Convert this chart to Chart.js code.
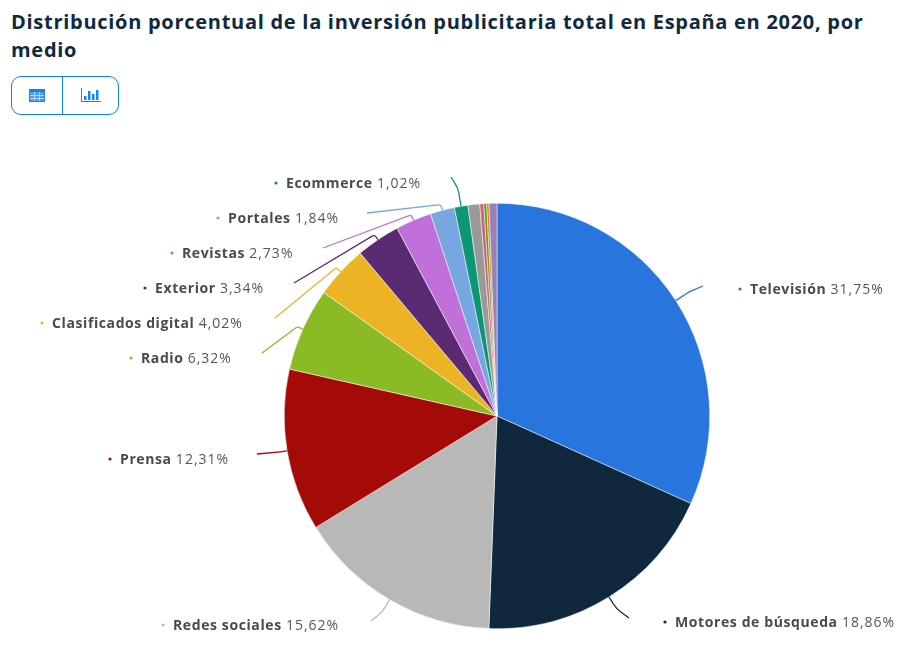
<!DOCTYPE html>
<html>
<head>
<meta charset="utf-8">
<title>Inversión publicitaria</title>
<script src="https://cdn.jsdelivr.net/npm/chart.js@4"></script>
<style>
  html, body { margin: 0; padding: 0; background: #fff; overflow: hidden; }
  body { width: 919px; height: 648px; position: relative; font-family: "Open Sans", sans-serif; }
  h1 { position: absolute; left: 11px; top: 8px; width: 880px; margin: 0; font-size: 20px; line-height: 28px; font-weight: 700; color: #0f2a40; letter-spacing: 0.72px; }
  .btns { position: absolute; left: 11px; top: 76px; width: 106px; height: 37px; border: 1px solid #0b84e8; border-radius: 10px; }
  .btns i { position: absolute; left: 50px; top: 0; width: 1px; height: 37px; background: #0b84e8; }
  .btns svg { position: absolute; }
  #wrap { position: absolute; left: 0; top: 120px; width: 919px; height: 528px; }
</style>
</head>
<body>
<h1>Distribución porcentual de la inversión publicitaria total en España en 2020, por medio</h1>
<div class="btns">
  <i></i>
  <svg style="left:17px;top:12px" width="17" height="14" viewBox="0 0 17 14">
    <rect x="0.5" y="0.5" width="15" height="12" fill="#4c9bf0" stroke="#1f7fe6"/>
    <rect x="0" y="0" width="16" height="3" fill="#1f7fe6"/>
    <path d="M1 6.5H15M1 9.5H15M5.5 3V12M10.5 3V12" stroke="#b5d6fa" fill="none"/>
  </svg>
  <svg style="left:69px;top:11px" width="20" height="15" viewBox="0 0 20 15">
    <path d="M0.5 0V13.5H20" stroke="#1f7fe6" fill="none"/>
    <rect x="3" y="8" width="2.5" height="4" fill="#1685ee"/>
    <rect x="7" y="3" width="2.5" height="9" fill="#1685ee"/>
    <rect x="11" y="6" width="2.5" height="6" fill="#1685ee"/>
    <rect x="15" y="2" width="2.5" height="10" fill="#1685ee"/>
  </svg>
</div>
<div id="wrap"><canvas id="pie" width="919" height="528"></canvas></div>
<script>
// ---- data ----
const categories = ["Televisión", "Motores de búsqueda", "Redes sociales", "Prensa", "Radio",
  "Clasificados digital", "Exterior", "Revistas", "Portales", "Ecommerce", "", "", "", "", ""];
const shares = [31.75, 18.86, 15.62, 12.31, 6.32, 4.02, 3.34, 2.73, 1.84, 1.02, 0.9, 0.3, 0.22, 0.17, 0.6];
const valueLabels = ["31,75%", "18,86%", "15,62%", "12,31%", "6,32%", "4,02%", "3,34%", "2,73%", "1,84%", "1,02%"];

// ---- style ----
const sliceColors = ["#2876dd", "#10283e", "#b8b8b8", "#a30a08", "#8abb25", "#ecb425", "#5a2a73",
  "#c070d9", "#77a6e2", "#0c9774", "#999999", "#d0617d", "#5c9e1d", "#e5791a", "#9a80b8"];

// label layout in page pixels: [text x, text middle y, connector end x, end y, breakout, corner radius]
const labelLayout = [
  [750, 290, 703, 286, 16, 30],
  [675, 623, 629, 618, 14, 30],
  [173, 626, 371, 621, 14, 30],
  [120, 460, 257, 454, 6, 20],
  [141, 359, 262, 353, 6, 3],
  [52, 324, 275, 318, 6, 3],
  [155, 289, 294, 283, 6, 3],
  [182, 254, 323, 248, 6, 3],
  [228, 219, 367, 213, 6, 3],
  [286, 184, 451, 177, 18, 24]
];
const wrapTop = 120;

// draws the outside labels and their connector lines
const outsideLabels = {
  id: "outsideLabels",
  afterDatasetsDraw(chart) {
    const ctx = chart.ctx;
    const arcs = chart.getDatasetMeta(0).data;
    labelLayout.forEach((l, i) => {
      const arc = arcs[i];
      const mid = (arc.startAngle + arc.endAngle) / 2;
      const sx = arc.x + arc.outerRadius * Math.cos(mid);
      const sy = arc.y + arc.outerRadius * Math.sin(mid);
      const bx = sx + l[4] * Math.cos(mid);
      const by = sy + l[4] * Math.sin(mid);
      const ex = l[2], ey = l[3] - wrapTop;

      ctx.save();
      ctx.strokeStyle = sliceColors[i];
      ctx.lineWidth = 1.3;
      ctx.beginPath();
      ctx.moveTo(sx, sy);
      ctx.arcTo(bx, by, ex, ey, l[5]);
      ctx.lineTo(ex, ey);
      ctx.stroke();

      const ty = l[1] - wrapTop;
      ctx.fillStyle = sliceColors[i];
      ctx.beginPath();
      ctx.arc(l[0] - 10, ty - 1, 1.6, 0, Math.PI * 2);
      ctx.fill();

      ctx.textBaseline = "middle";
      ctx.textAlign = "left";
      ctx.letterSpacing = "0.6px";
      ctx.font = "700 14px 'Open Sans'";
      ctx.fillStyle = "#4a4a4a";
      ctx.fillText(categories[i], l[0], ty);
      const w = ctx.measureText(categories[i] + " ").width;
      ctx.letterSpacing = "1px";
      ctx.font = "400 14px 'Open Sans'";
      ctx.fillStyle = "#555555";
      ctx.fillText(valueLabels[i], l[0] + w, ty);
      ctx.restore();
    });
  }
};

new Chart(document.getElementById("pie"), {
  type: "pie",
  data: {
    labels: categories,
    datasets: [{
      data: shares,
      backgroundColor: sliceColors,
      borderColor: "#ffffff",
      borderWidth: 0.5
    }]
  },
  options: {
    responsive: false,
    animation: false,
    events: [],
    layout: { padding: { left: 284, right: 209, top: 83, bottom: 19 } },
    plugins: { legend: { display: false }, tooltip: { enabled: false } }
  },
  plugins: [outsideLabels]
});
</script>
</body>
</html>
